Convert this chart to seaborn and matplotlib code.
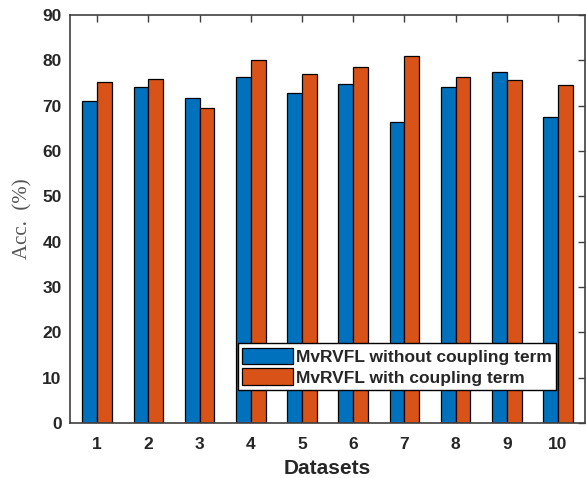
import numpy as np
import pandas as pd
import matplotlib
matplotlib.use('Agg')
import matplotlib.pyplot as plt
import seaborn as sns

# accuracy (%)
datasets = ['1', '2', '3', '4', '5', '6', '7', '8', '9', '10']
acc_without = [71.1, 74.2, 71.6, 76.4, 72.7, 74.8, 66.3, 74.2, 77.5, 67.4]
acc_with = [75.3, 75.9, 69.5, 80.1, 76.9, 78.5, 80.9, 76.4, 75.6, 74.5]
series = ['MvRVFL without coupling term', 'MvRVFL with coupling term']
colors = ['#0072BD', '#D95319']

df = pd.DataFrame({
    'Datasets': datasets * 2,
    'Acc': acc_without + acc_with,
    'Method': [series[0]] * len(datasets) + [series[1]] * len(datasets),
})

sns.set_style('white')
plt.rcParams['font.family'] = ['Liberation Sans', 'DejaVu Sans']

fig = plt.figure(figsize=(5.86, 4.78), dpi=100)
ax = fig.add_axes([0.1195, 0.115, 0.879, 0.8536])

sns.barplot(data=df, x='Datasets', y='Acc', hue='Method', hue_order=series,
            palette=colors, width=0.58, edgecolor='black', linewidth=0.9,
            saturation=1, ax=ax)

ax.set_xlim(-0.53, 9.53)
ax.set_ylim(0, 90)
ax.set_yticks(np.arange(0, 91, 10))
ax.tick_params(direction='in', length=5, width=1, color='#404040',
               top=True, right=True, labelsize=12.5)
ax.tick_params(axis='x', pad=10)
ax.tick_params(axis='y', pad=6)
for lab in ax.get_xticklabels() + ax.get_yticklabels():
    lab.set_fontweight('bold')
    lab.set_color('#262626')
for sp in ax.spines.values():
    sp.set_color('#404040')
    sp.set_linewidth(1.2)

ax.set_xlabel('Datasets', fontsize=15, fontweight='bold', color='#262626', labelpad=5)
ax.set_ylabel('Acc.  (%)', fontsize=15, family=['Liberation Serif', 'DejaVu Serif'],
              color='#555555', labelpad=7)

leg = ax.legend(loc='lower left', bbox_to_anchor=(0.326, 0.081), frameon=True,
                fancybox=False, edgecolor='black', framealpha=1,
                handlelength=2.9, handleheight=1.1, handletextpad=0.2,
                borderpad=0.25, labelspacing=0.2, borderaxespad=0,
                prop={'weight': 'bold', 'size': 12.5})
leg.get_frame().set_linewidth(1.0)

fig.savefig('out.png', dpi=100)
